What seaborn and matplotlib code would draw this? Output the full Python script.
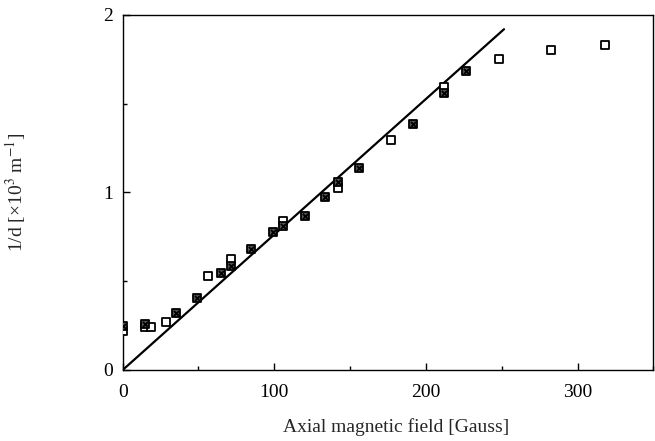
import seaborn as sns
import matplotlib.pyplot as plt
import pandas as pd
from matplotlib.ticker import MultipleLocator

# Data
open_x = [0, 15, 18.5, 28.4, 56.2, 71.4, 105.7, 142.1, 176.7, 212, 248, 282.6, 318.3]
open_y = [0.22, 0.24, 0.24, 0.27, 0.527, 0.627, 0.838, 1.025, 1.295, 1.595, 1.75, 1.80, 1.83]

cross_x = [0, 14.7, 35.2, 49.3, 64.8, 71.4, 84.6, 98.9, 105.7, 120, 133.7, 142.1, 155.7, 191.4, 212, 226.5]
cross_y = [0.25, 0.26, 0.32, 0.405, 0.546, 0.588, 0.68, 0.778, 0.81, 0.866, 0.977, 1.06, 1.14, 1.388, 1.56, 1.685]

fit_x = [0, 251.5]
fit_y = [0, 1.92]

sns.set_style("ticks")
plt.rcParams['font.family'] = ['Liberation Serif', 'DejaVu Serif']
plt.rcParams['mathtext.fontset'] = 'stix'

fig = plt.figure(figsize=(6.55, 4.41), dpi=100)
ax = fig.add_axes([0.1873, 0.161, 0.8102, 0.805])

sns.lineplot(x=fit_x, y=fit_y, ax=ax, color='black', linewidth=1.6)

df_open = pd.DataFrame({'B': open_x, 'inv_d': open_y})
df_cross = pd.DataFrame({'B': cross_x, 'inv_d': cross_y})

sns.scatterplot(data=df_open, x='B', y='inv_d', ax=ax, marker='s', s=30,
                facecolor='white', edgecolor='black', linewidth=1.3, zorder=3)
sns.scatterplot(data=df_cross, x='B', y='inv_d', ax=ax, marker='s', s=30,
                facecolor='#555555', edgecolor='black', linewidth=1.3, zorder=4)
sns.scatterplot(data=df_cross, x='B', y='inv_d', ax=ax, marker='x', s=14,
                color='black', linewidth=1.3, zorder=5)

ax.set_xlim(0, 350)
ax.set_ylim(0, 2)
ax.xaxis.set_major_locator(MultipleLocator(100))
ax.xaxis.set_minor_locator(MultipleLocator(50))
ax.yaxis.set_major_locator(MultipleLocator(1))
ax.yaxis.set_minor_locator(MultipleLocator(0.5))
ax.tick_params(which='both', direction='in', labelsize=14, width=1, colors='black')
ax.tick_params(axis='x', which='major', length=5, pad=10)
ax.tick_params(axis='y', which='major', length=5, pad=7)
ax.tick_params(which='minor', length=3)
for sp in ax.spines.values():
    sp.set_color('black')
    sp.set_linewidth(1.0)

ax.set_xlabel('Axial magnetic field [Gauss]', fontsize=14)
ax.set_ylabel('1/d [×10$^3$ m$^{-1}$]', fontsize=14)
ax.xaxis.set_label_coords(0.516, -0.135)
ax.yaxis.set_label_coords(-0.178, 0.5)

plt.savefig('out.png', dpi=100)
